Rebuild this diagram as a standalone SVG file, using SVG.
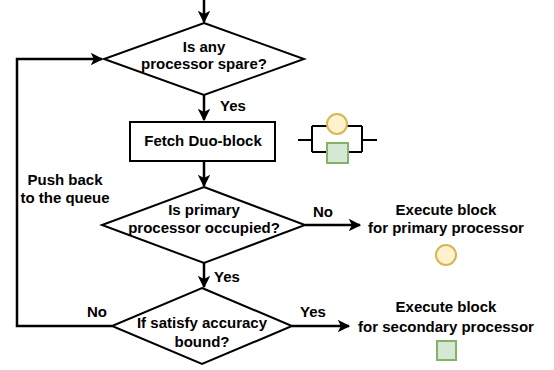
<svg xmlns="http://www.w3.org/2000/svg" width="554" height="370" viewBox="0 0 554 370">
<defs>
<style>
text{font-family:"Liberation Sans",Arial,sans-serif;font-weight:bold;font-size:15px;fill:#000;}
.c{text-anchor:middle;}
.s{fill:#fff;stroke:#000;stroke-width:2;}
.l{fill:none;stroke:#000;stroke-width:2.5;}
.t{fill:none;stroke:#000;stroke-width:2;}
</style>
<marker id="a" viewBox="0 0 10 10" refX="9" refY="5" markerWidth="5" markerHeight="5" orient="auto" markerUnits="strokeWidth">
<path d="M0,0 L10,5 L0,10 L2.5,5 Z" fill="#000"/>
</marker>
</defs>
<g id="connectors">
<path class="l" d="M204,0 V22" marker-end="url(#a)"/>
<path class="l" d="M204,95 V120" marker-end="url(#a)"/>
<path class="l" d="M204,161 V186" marker-end="url(#a)"/>
<path class="l" d="M204,263 V287" marker-end="url(#a)"/>
<path class="l" d="M305,225 H360" marker-end="url(#a)"/>
<path class="l" d="M292,326 H349" marker-end="url(#a)"/>
<path class="l" d="M112,326 H17 V59 H102" marker-end="url(#a)"/>
<text x="233" y="111" class="c">Yes</text>
<text x="227" y="282" class="c">Yes</text>
<text x="323" y="217" class="c">No</text>
<text x="313" y="317" class="c">Yes</text>
<text x="97" y="317" class="c">No</text>
<text x="65" y="185" class="c">Push back</text>
<text x="65" y="203" class="c">to the queue</text>
</g>
<g id="d1">
<path class="s" d="M204,23 L304,59 L204,95 L104,59 Z"/>
<text x="204" y="52" class="c">Is any</text>
<text x="204" y="69" class="c">processor spare?</text>
</g>
<g id="fetch">
<rect class="s" x="130" y="122" width="145" height="39"/>
<text x="203" y="146" class="c">Fetch Duo-block</text>
</g>
<g id="icon">
<path class="t" d="M298,140 H312 M312,126 V152 M312,126 H327 M347,126 H362 M312,152 H327 M348,152 H362 M362,126 V152 M362,140 H377"/>
<circle cx="337" cy="124" r="10" fill="#fff2cc" stroke="#d6b656" stroke-width="2"/>
<rect x="327" y="143" width="21" height="20" fill="#d5e8d4" stroke="#82b366" stroke-width="2"/>
</g>
<g id="d2">
<path class="s" d="M204,187 L305,225 L204,263 L102,225 Z"/>
<text x="204" y="215" class="c">Is primary</text>
<text x="204" y="233" class="c">processor occupied?</text>
</g>
<g id="d3">
<path class="s" d="M202,288 L292,326 L202,364 L112,326 Z"/>
<text x="202" y="328" class="c">If satisfy accuracy</text>
<text x="202" y="347" class="c">bound?</text>
</g>
<g id="exec1">
<text x="446" y="215" class="c">Execute block</text>
<text x="446" y="233" class="c">for primary processor</text>
<circle cx="446" cy="255" r="10" fill="#fff2cc" stroke="#d6b656" stroke-width="2"/>
</g>
<g id="exec2">
<text x="446" y="312" class="c">Execute block</text>
<text x="446" y="332" class="c">for secondary processor</text>
<rect x="437" y="341" width="19" height="19" fill="#d5e8d4" stroke="#82b366" stroke-width="2"/>
</g>
</svg>
